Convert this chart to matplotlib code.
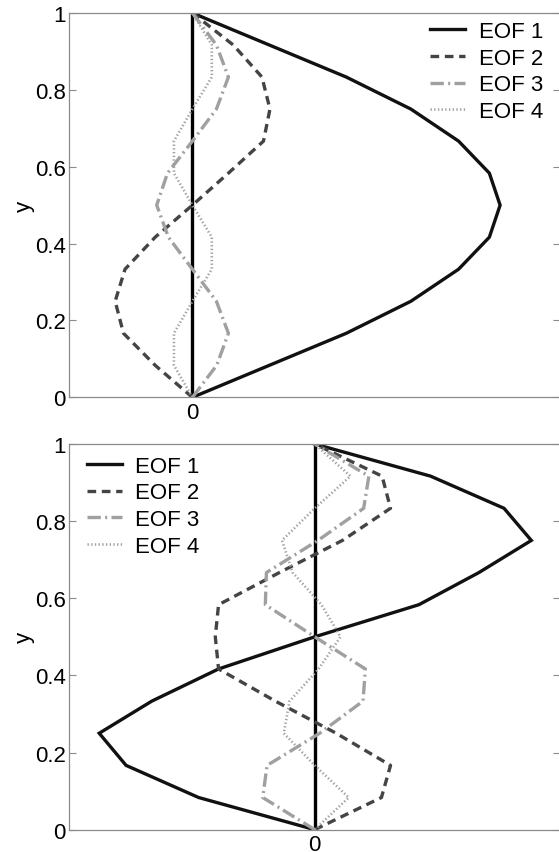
import matplotlib
matplotlib.use("Agg")
import matplotlib.pyplot as plt
import numpy as np

# -- data: EOF profiles at 13 levels, y = k/12 --------------------------------
y_levels = np.arange(13) / 12

# top panel (units: peak of EOF 1 = 1)
top_eof1 = [0, 0.25, 0.50, 0.71, 0.865, 0.965, 1.0, 0.965, 0.865, 0.71, 0.50, 0.25, 0]
top_eof2 = [0, -0.121, -0.224, -0.251, -0.219, -0.121, 0, 0.117, 0.231, 0.252, 0.226, 0.133, 0]
top_eof3 = [0, 0.079, 0.117, 0.078, 0, -0.078, -0.116, -0.081, 0, 0.078, 0.117, 0.078, 0]
top_eof4 = [0, -0.060, -0.060, 0, 0.063, 0.063, 0, -0.060, -0.060, 0, 0.063, 0.063, 0]

# bottom panel
bot_eof1 = [0, -0.536, -0.871, -0.995, -0.752, -0.444, 0, 0.481, 0.758, 1.0, 0.874, 0.535, 0]
bot_eof2 = [0, 0.308, 0.350, 0.099, -0.182, -0.444, -0.459, -0.444, -0.163, 0.128, 0.350, 0.311, 0]
bot_eof3 = [0, -0.240, -0.220, 0.023, 0.223, 0.234, 0, -0.228, -0.223, 0.015, 0.226, 0.250, 0]
bot_eof4 = [0, 0.157, 0, -0.143, -0.116, 0.018, 0.119, 0.031, -0.102, -0.151, 0, 0.165, 0]

labels = ["EOF 1", "EOF 2", "EOF 3", "EOF 4"]
y_ticks = [0, 0.2, 0.4, 0.6, 0.8, 1]
y_ticklabels = ["0", "0.2", "0.4", "0.6", "0.8", "1"]

# -- style ---------------------------------------------------------------------
plt.rcParams["font.family"] = ["Liberation Sans", "DejaVu Sans"]
FS = 16
STYLES = [
    dict(color="#111111", lw=2.4, linestyle="-"),
    dict(color="#444444", lw=2.4, linestyle=(0, (2.6, 1.7))),
    dict(color="#a0a0a0", lw=2.4, linestyle=(0, (4.0, 1.3, 0.6, 1.3))),
    dict(color="#a0a0a0", lw=1.9, linestyle=(0, (0.5, 0.9))),
]
SPINE = "#8a8a8a"


def draw_panel(ax, series, xlim, legend_loc, legend_anchor):
    for vals, lab, st in zip(series, labels, STYLES):
        ax.plot(vals, y_levels, label=lab, solid_joinstyle="miter", **st)
    ax.axvline(0, color="black", lw=2.4, zorder=1)

    ax.set_xlim(*xlim)
    ax.set_ylim(0, 1)
    ax.set_xticks([0])
    ax.set_xticklabels(["0"], fontsize=FS)
    ax.set_yticks(y_ticks)
    ax.set_yticklabels(y_ticklabels, fontsize=FS)
    ax.set_ylabel("y", fontsize=FS, labelpad=0)
    ax.tick_params(axis="y", direction="in", length=5, color=SPINE, right=True, pad=2.5)
    ax.tick_params(axis="x", direction="in", length=0, pad=3)
    for sp in ax.spines.values():
        sp.set_color(SPINE)
        sp.set_linewidth(0.9)

    leg = ax.legend(loc=legend_loc, bbox_to_anchor=legend_anchor, frameon=False,
                    fontsize=FS, handlelength=1.6, handletextpad=0.6,
                    labelspacing=0.26, borderaxespad=0)
    return leg


fig = plt.figure(figsize=(5.59, 8.53), dpi=100)
ax_top = fig.add_axes([0.124, 0.533, 0.878, 0.4506])
ax_bot = fig.add_axes([0.124, 0.0262, 0.878, 0.4521])

draw_panel(ax_top, [top_eof1, top_eof2, top_eof3, top_eof4], (-0.40, 1.195),
           "upper right", (0.983, 1.003))
draw_panel(ax_bot, [bot_eof1, bot_eof2, bot_eof3, bot_eof4], (-1.133, 1.133),
           "upper left", (0.017, 0.993))

fig.savefig("out.png", dpi=100)
